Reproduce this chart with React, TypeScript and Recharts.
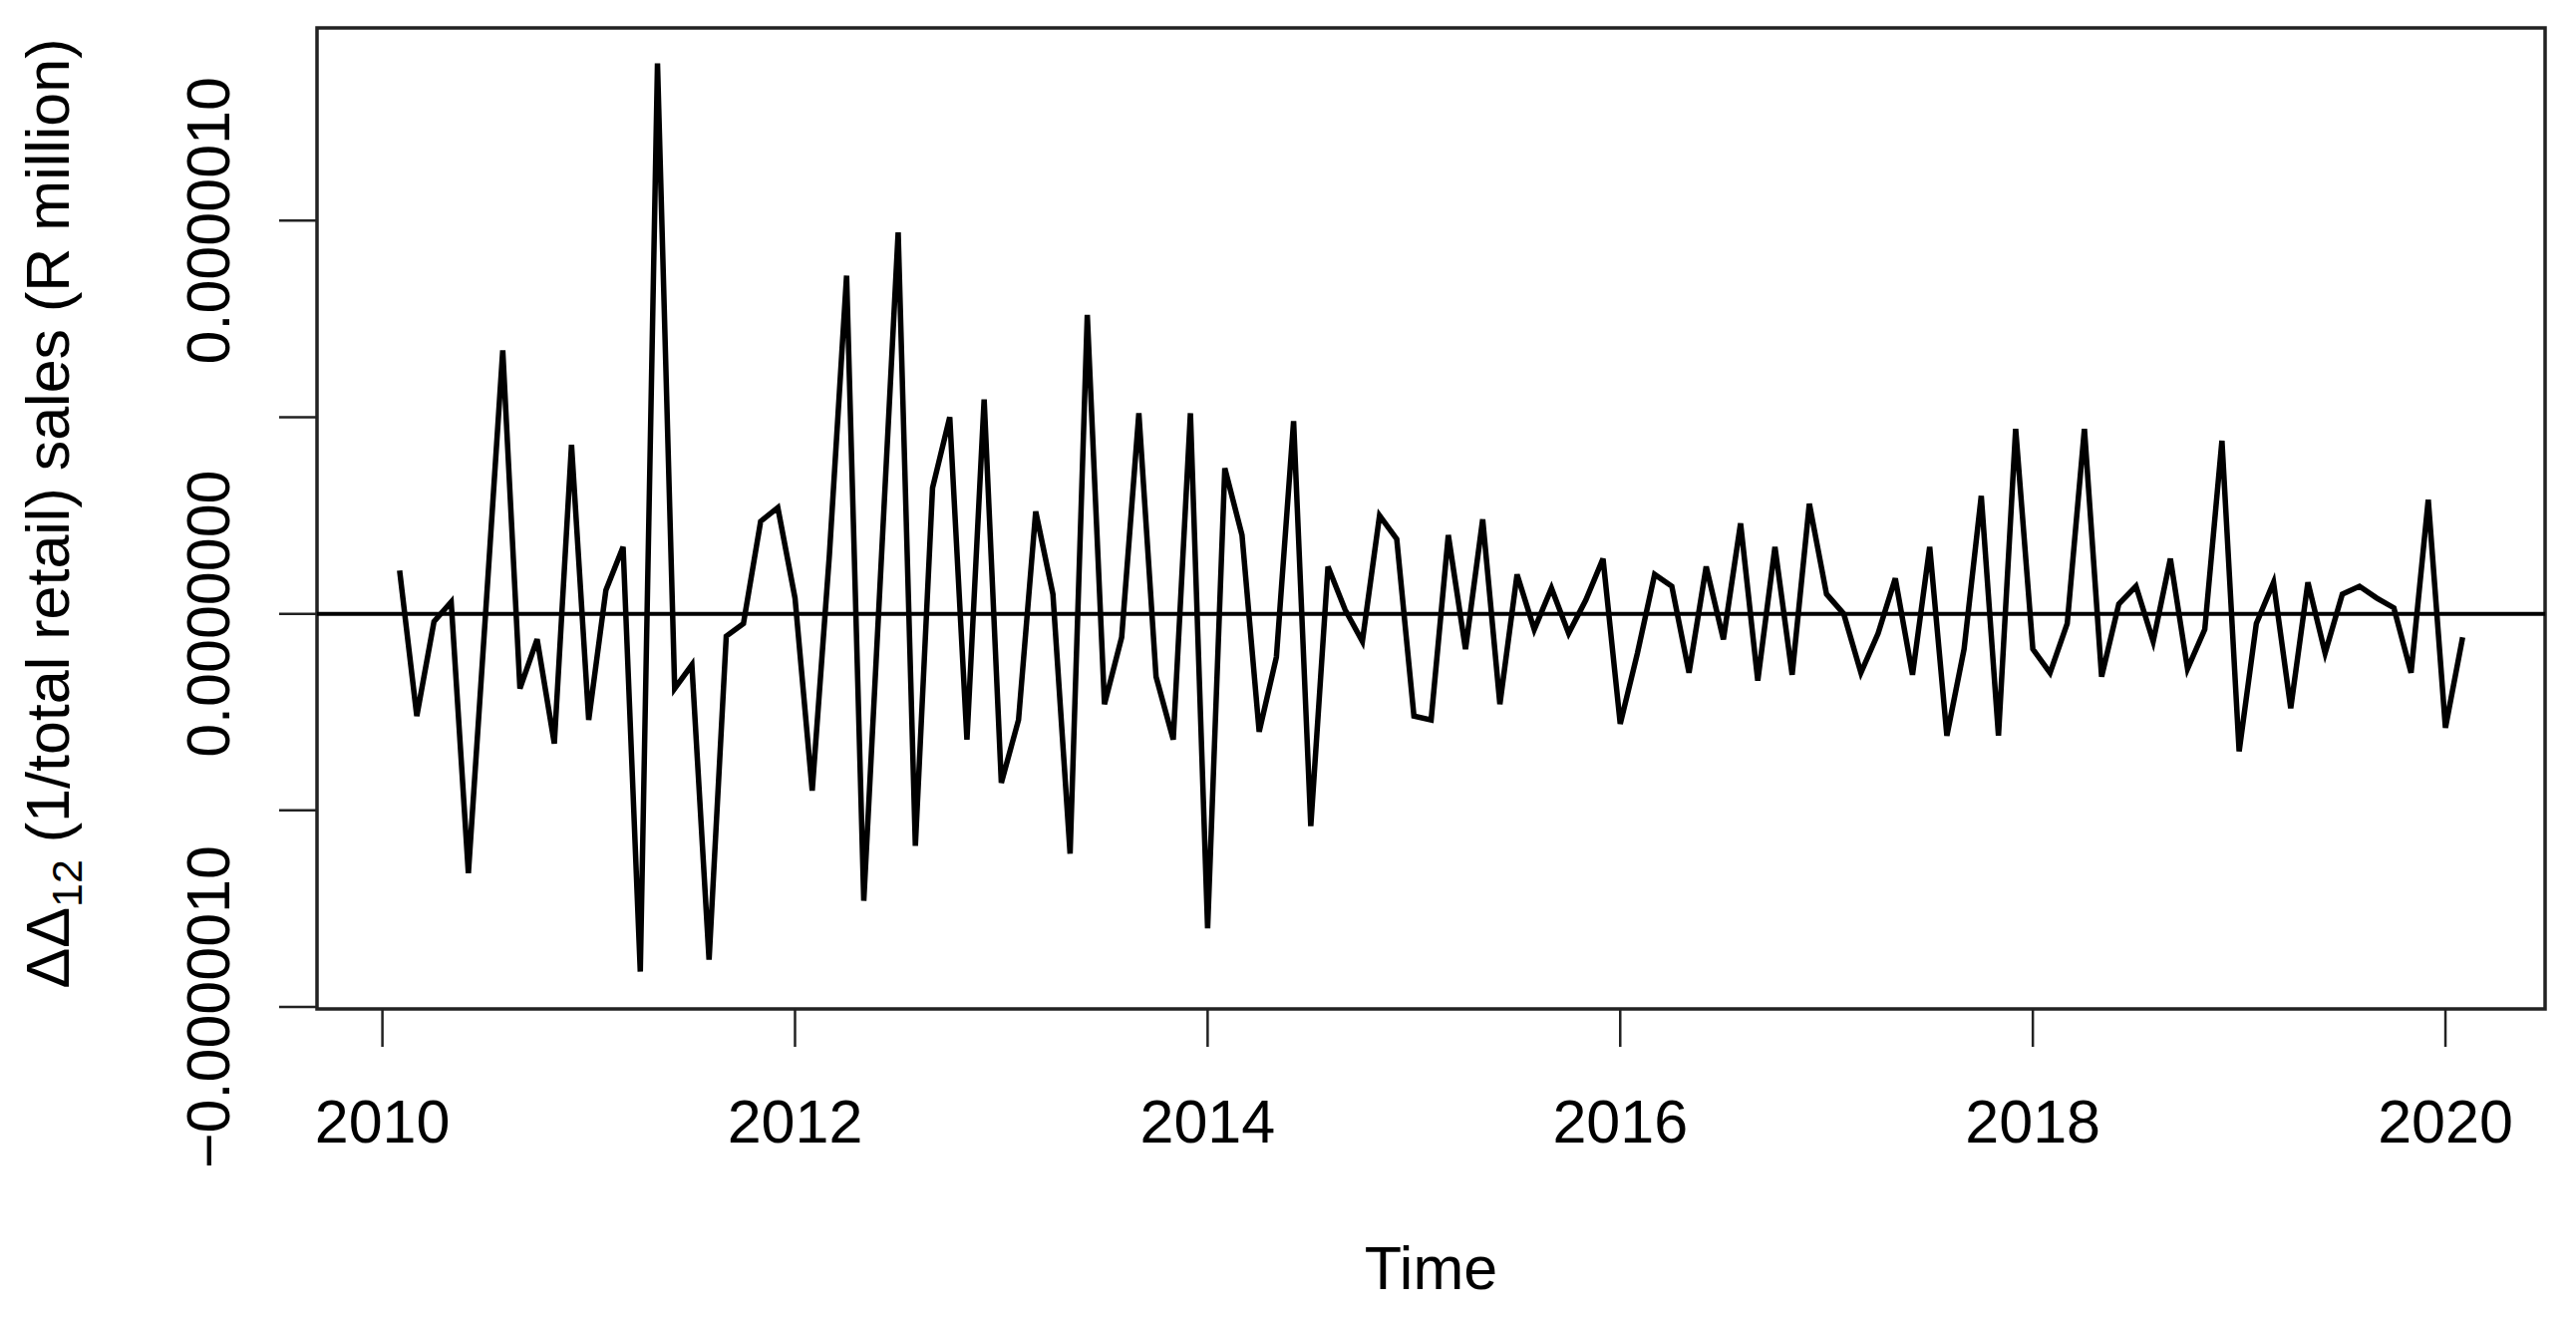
import React from 'react';
import { LineChart, Line, XAxis, YAxis, ReferenceLine, ReferenceArea, Label } from 'recharts';

// seasonal + first difference of 1/(total retail sales), in units of 1e-6
// one array per calendar year, series runs Feb 2010 .. Feb 2020
const y2010 = [0.11, -0.26, -0.02, 0.03, -0.66, 0.0, 0.67, -0.19, -0.065, -0.33, 0.43]; // Feb-Dec
const y2011 = [-0.27, 0.06, 0.17, -0.91, 1.4, -0.19, -0.13, -0.88, -0.057, -0.025, 0.235, 0.27];
const y2012 = [0.04, -0.45, 0.15, 0.86, -0.73, 0.12, 0.97, -0.59, 0.32, 0.5, -0.32, 0.545];
const y2013 = [-0.43, -0.27, 0.26, 0.05, -0.61, 0.76, -0.23, -0.06, 0.51, -0.16, -0.32, 0.51];
const y2014 = [-0.8, 0.37, 0.2, -0.3, -0.11, 0.49, -0.54, 0.12, 0.01, -0.07, 0.25, 0.19];
const y2015 = [-0.26, -0.27, 0.2, -0.09, 0.24, -0.23, 0.1, -0.04, 0.065, -0.05, 0.035, 0.14];
const y2016 = [-0.28, -0.1, 0.1, 0.07, -0.15, 0.12, -0.065, 0.23, -0.17, 0.17, -0.155, 0.28];
const y2017 = [0.05, 0.0, -0.15, -0.05, 0.09, -0.155, 0.17, -0.31, -0.09, 0.3, -0.31, 0.47];
const y2018 = [-0.09, -0.15, -0.025, 0.47, -0.16, 0.025, 0.07, -0.07, 0.14, -0.14, -0.04, 0.44];
const y2019 = [-0.35, -0.025, 0.08, -0.24, 0.08, -0.1, 0.05, 0.07, 0.04, 0.015, -0.15, 0.29];
const y2020 = [-0.29, -0.06]; // Jan-Feb

const yearTicks = [2010, 2012, 2014, 2016, 2018, 2020];
const yTicks = [-1, -0.5, 0, 0.5, 1];
const labelledYTicks = [-1, 0, 1];

const X_DOMAIN: [number, number] = [2009.683, 2020.483];
const Y_DOMAIN: [number, number] = [-1.005, 1.49];

const FONT = '"Liberation Sans", Arial, Helvetica, sans-serif';
const FS = 61;

const years = [
  { year: 2010, firstMonth: 2, values: y2010 },
  { year: 2011, firstMonth: 1, values: y2011 },
  { year: 2012, firstMonth: 1, values: y2012 },
  { year: 2013, firstMonth: 1, values: y2013 },
  { year: 2014, firstMonth: 1, values: y2014 },
  { year: 2015, firstMonth: 1, values: y2015 },
  { year: 2016, firstMonth: 1, values: y2016 },
  { year: 2017, firstMonth: 1, values: y2017 },
  { year: 2018, firstMonth: 1, values: y2018 },
  { year: 2019, firstMonth: 1, values: y2019 },
  { year: 2020, firstMonth: 1, values: y2020 },
];

const data = years.flatMap(({ year, firstMonth, values }) =>
  values.map((v, k) => ({ time: year + (firstMonth - 1 + k) / 12, value: v }))
);

const fmt = (v: number) => (v * 1e-6).toFixed(7).replace('-', '\u2212');

const YTick = (props: any) => {
  const { x, y, payload } = props;
  if (!labelledYTicks.includes(payload.value)) return <g />;
  const bx = x - 50;
  return (
    <text x={bx} y={y} transform={`rotate(-90, ${bx}, ${y})`} textAnchor="middle"
      fontFamily={FONT} fontSize={FS} fill="#000">
      {fmt(payload.value)}
    </text>
  );
};

const XTick = (props: any) => {
  const { x, y, payload } = props;
  return (
    <text x={x} y={y + 96} textAnchor="middle" fontFamily={FONT} fontSize={FS} fill="#000">
      {payload.value}
    </text>
  );
};

const TimeTitle = (props: any) => {
  const vb = props.viewBox;
  return (
    <text x={vb.x + vb.width / 2} y={vb.y + 281} textAnchor="middle"
      fontFamily={FONT} fontSize={FS} fill="#000">
      Time
    </text>
  );
};

const YTitle = (props: any) => {
  const vb = props.viewBox;
  const bx = vb.x + 69;
  const cy = vb.y + vb.height / 2 - 5;
  return (
    <text x={bx} y={cy} transform={`rotate(-90, ${bx}, ${cy})`} textAnchor="middle"
      fontFamily={FONT} fontSize={FS} fill="#000">
      {'\u0394\u0394'}
      <tspan fontSize={43} dy={13}>12</tspan>
      <tspan dy={-13}>{' (1/total retail) sales (R million)'}</tspan>
    </text>
  );
};

export default function App() {
  return (
    <div style={{ position: 'absolute', left: 0, top: 0, width: 2584, height: 1323, background: '#fff' }}>
      <LineChart width={2584} height={1323} data={data}
        margin={{ top: 28, right: 31, bottom: 0, left: 0 }}>
        <XAxis dataKey="time" type="number" domain={X_DOMAIN} ticks={yearTicks}
          allowDataOverflow height={311} axisLine={false} tickSize={38} tickMargin={0}
          tickLine={{ stroke: '#222', strokeWidth: 2.5 }} tick={<XTick />} interval={0}>
          <Label content={<TimeTitle />} />
        </XAxis>
        <YAxis type="number" domain={Y_DOMAIN} ticks={yTicks} allowDataOverflow width={318}
          axisLine={false} tickSize={38} tickMargin={0}
          tickLine={{ stroke: '#222', strokeWidth: 2.5 }} tick={<YTick />} interval={0}>
          <Label content={<YTitle />} />
        </YAxis>
        <ReferenceArea x1={X_DOMAIN[0]} x2={X_DOMAIN[1]} y1={Y_DOMAIN[0]} y2={Y_DOMAIN[1]}
          fill="none" fillOpacity={0} stroke="#222" strokeWidth={3.5} ifOverflow="visible" />
        <ReferenceLine y={0} stroke="#000" strokeWidth={4} />
        <Line type="linear" dataKey="value" stroke="#000" strokeWidth={5.5} dot={false}
          isAnimationActive={false} />
      </LineChart>
    </div>
  );
}
